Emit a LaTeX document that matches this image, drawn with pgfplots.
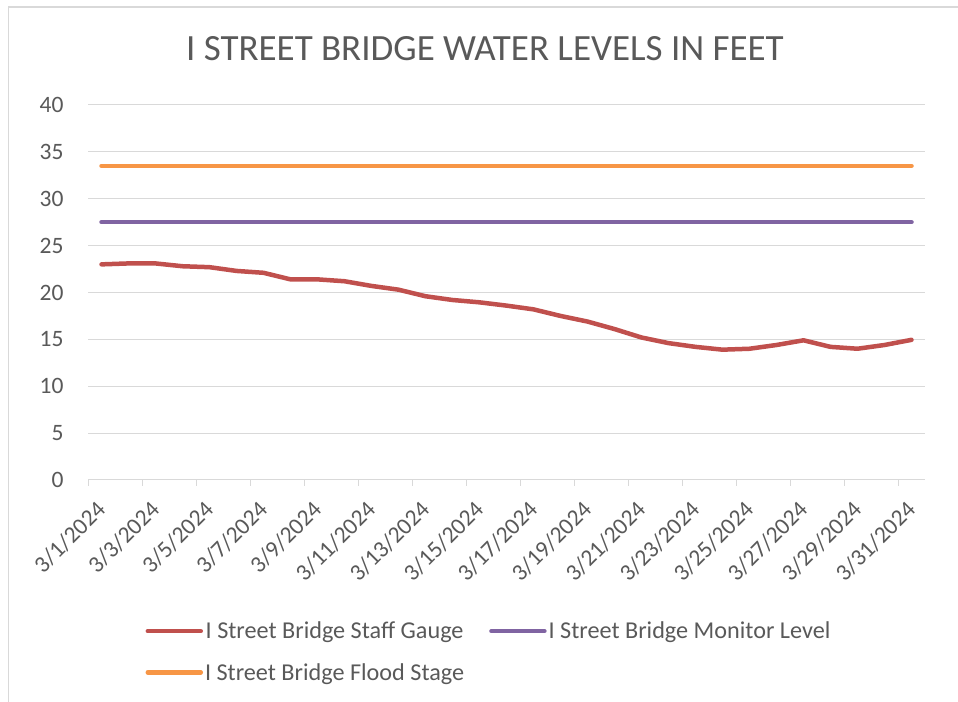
\documentclass[border=0pt]{standalone}
\usepackage{pgfplots}
\pgfplotsset{compat=1.18}
\usepackage{fontspec}
\setmainfont{Carlito}
\definecolor{txt}{HTML}{595959}
\definecolor{gridc}{HTML}{D9D9D9}
\definecolor{cred}{HTML}{C0504D}
\definecolor{cpur}{HTML}{8064A2}
\definecolor{corg}{HTML}{F79646}
\pgfplotstableread{
i staff
0 23.0
1 23.1
2 23.1
3 22.8
4 22.7
5 22.3
6 22.1
7 21.4
8 21.4
9 21.2
10 20.7
11 20.3
12 19.6
13 19.2
14 18.95
15 18.6
16 18.2
17 17.5
18 16.9
19 16.1
20 15.2
21 14.6
22 14.2
23 13.9
24 14.0
25 14.4
26 14.9
27 14.2
28 14.0
29 14.4
30 14.95
}\staffdata
\begin{document}
\begin{tikzpicture}[x=1bp,y=1bp]
\path[use as bounding box] (0,0) rectangle (958,702);
\draw[gridc, line width=1.5bp] (8.5,0) -- (8.5,695) -- (958,695);
\begin{axis}[
  at={(88bp,222bp)}, anchor=south west,
  scale only axis, width=837bp, height=375bp,
  xmin=-0.5, xmax=30.5, ymin=0, ymax=40,
  axis x line*=bottom, axis y line*=left,
  x axis line style={gridc, line width=1bp, -},
  y axis line style={draw=none},
  ytick={0,5,...,40},
  ymajorgrids, grid style={gridc, line width=1bp},
  ytick style={draw=none},
  xtick={0,2,...,30},
  xticklabels={3/1/2024,3/3/2024,3/5/2024,3/7/2024,3/9/2024,3/11/2024,3/13/2024,3/15/2024,3/17/2024,3/19/2024,3/21/2024,3/23/2024,3/25/2024,3/27/2024,3/29/2024,3/31/2024},
  xtick style={draw=none},
  extra x ticks={-0.5,1.5,...,29.5},
  extra x tick labels={},
  extra x tick style={xtick style={draw=gridc, line width=1bp}, major tick length=6bp, tick align=outside, grid=none},
  tick label style={font=\fontsize{23.5bp}{27bp}\selectfont, text=txt},
  /pgf/number format/assume math mode=true,
  yticklabel style={xshift=-21bp},
  xticklabel style={rotate=45, anchor=north east, xshift=-17bp, yshift=-8bp, inner sep=1bp},
  title={I STREET BRIDGE WATER LEVELS IN FEET},
  title style={at={(0.4743,1.135)}, anchor=center, font=\fontsize{37bp}{42bp}\selectfont, text=txt},
  legend columns=2,
  legend style={draw=none, fill=none, at={(0.479,-0.458)}, anchor=center,
    font=\fontsize{24.2bp}{28bp}\selectfont, text=txt, row sep=19bp,
    /tikz/every even column/.append style={column sep=23bp}},
  legend image code/.code={\draw[#1] (0bp,0bp) -- (53bp,0bp);},
  every axis plot/.append style={line width=4.5bp, line cap=round, line join=round},
]
\addplot[cred, no markers] table[x=i, y=staff] {\staffdata};
\addlegendentry{I Street Bridge Staff Gauge}
\addplot[cpur, no markers] coordinates {(0,27.5) (30,27.5)};
\addlegendentry{I Street Bridge Monitor Level}
\addplot[corg, no markers] coordinates {(0,33.5) (30,33.5)};
\addlegendentry{I Street Bridge Flood Stage}
\end{axis}
\end{tikzpicture}
\end{document}
